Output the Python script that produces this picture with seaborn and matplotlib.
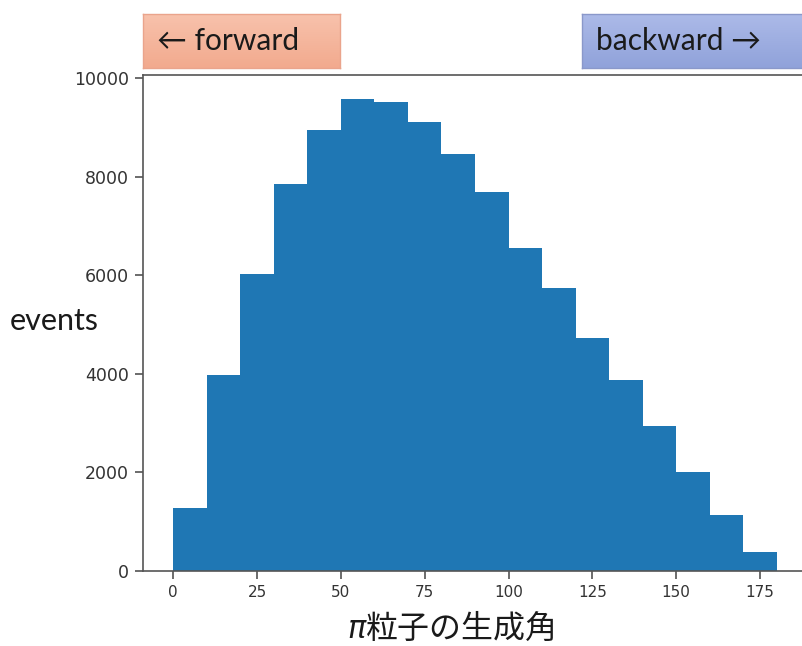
import numpy as np
import matplotlib
matplotlib.use("Agg")
import matplotlib.pyplot as plt
import seaborn as sns

# Production-angle histogram of pions (10-degree bins)
bin_edges = [0, 10, 20, 30, 40, 50, 60, 70, 80, 90, 100,
             110, 120, 130, 140, 150, 160, 170, 180]
event_counts = [1280, 3970, 6020, 7840, 8950, 9580, 9520, 9110, 8460,
                7680, 6550, 5740, 4730, 3870, 2940, 2010, 1130, 380]
x_ticks = [0, 25, 50, 75, 100, 125, 150, 175]
y_ticks = [0, 2000, 4000, 6000, 8000, 10000]

sns.set_style("ticks")
plt.rcParams["font.family"] = ["DejaVu Sans", "Noto Sans CJK JP"]

W, H = 802, 646
fig = plt.figure(figsize=(W / 100, H / 100), dpi=100)


def fx(px):
    return px / W


def fy(py):
    return 1 - py / H


ax = fig.add_axes([fx(143), fy(571), fx(807) - fx(143), fy(75) - fy(571)])

centers = [(a + b) / 2 for a, b in zip(bin_edges[:-1], bin_edges[1:])]
sns.histplot(x=centers, weights=event_counts, bins=bin_edges, ax=ax,
             color="#1f77b4", alpha=1.0, linewidth=0, element="bars")

ax.set_xlim(-9, 189)
ax.set_ylim(0, max(event_counts) * 1.05)
ax.set_xticks(x_ticks)
ax.set_yticks(y_ticks)
ax.set_xticklabels([str(v) for v in x_ticks], fontsize=11, color="#333333")
ax.set_yticklabels([str(v) for v in y_ticks], fontsize=12.5, color="#333333")
ax.set_xlabel("")
ax.set_ylabel("")
ax.tick_params(axis="both", length=6, width=1.1, color="#444444", pad=4)
for side in ["left", "bottom", "top", "right"]:
    ax.spines[side].set_visible(True)
    ax.spines[side].set_color("#555555")
    ax.spines[side].set_linewidth(1.2)

# Direction boxes with a soft vertical gradient
def gradient_box(x0, x1, y0, y1, top_rgb, bottom_rgb, edge):
    bax = fig.add_axes([fx(x0), fy(y1), fx(x1) - fx(x0), fy(y0) - fy(y1)])
    t = np.linspace(0, 1, 64)[:, None]
    top = np.array(top_rgb) / 255.0
    bot = np.array(bottom_rgb) / 255.0
    img = (1 - t)[..., None] * top + t[..., None] * bot
    img = np.repeat(img, 2, axis=1)
    bax.imshow(img, aspect="auto", extent=[0, 1, 0, 1], origin="upper")
    bax.set_xticks([])
    bax.set_yticks([])
    for s in bax.spines.values():
        s.set_color(edge)
        s.set_linewidth(1.0)
    return bax


gradient_box(143, 340, 14, 68, (248, 194, 172), (242, 170, 142), "#eaa48c")
gradient_box(582, 830, 14, 68, (172, 186, 232), (144, 162, 218), "#8a98ca")

box_font = ["Lato", "DejaVu Sans"]
fig.text(fx(157), fy(41), "\u2190 forward", fontsize=21.5, family=box_font,
         color="#1a1a1a", ha="left", va="center")
fig.text(fx(596), fy(41), "backward \u2192", fontsize=21.5, family=box_font,
         color="#1a1a1a", ha="left", va="center")

# Axis titles
fig.text(fx(10), fy(321), "events", fontsize=22, family=box_font,
         color="#1a1a1a", ha="left", va="center")
fig.text(fx(347), fy(629), "\u03c0", fontsize=22, family="DejaVu Sans",
         style="italic", color="#1a1a1a", ha="left", va="center")
fig.text(fx(366), fy(629), "粒子の生成角", fontsize=23,
         family=["Noto Sans CJK JP", "DejaVu Sans"],
         color="#1a1a1a", ha="left", va="center")

fig.savefig("out.png", dpi=100)
